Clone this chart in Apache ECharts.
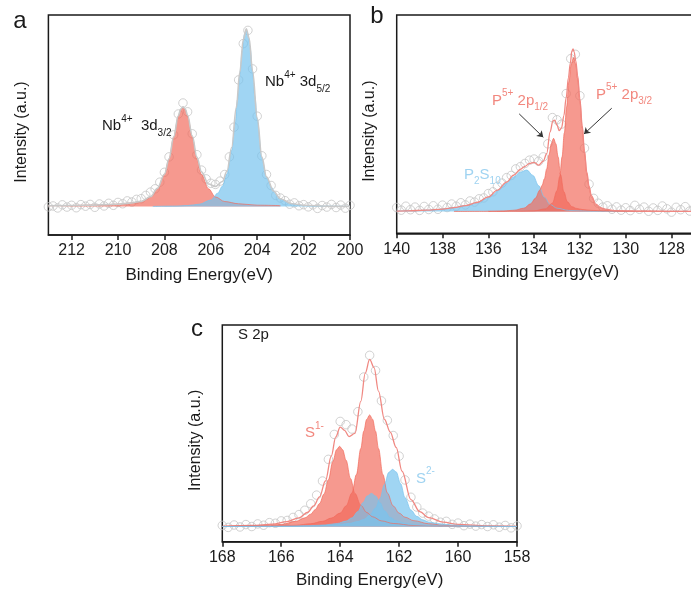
<!DOCTYPE html>
<html><head><meta charset="utf-8">
<script src="https://cdn.jsdelivr.net/npm/echarts@6/dist/echarts.min.js"></script>
<style>html,body{margin:0;padding:0;background:#fff}#c{width:691px;height:592px}</style>
</head><body><div id="c"></div>
<script>
// ---------- tick labels ----------
const ticksA = [200, 202, 204, 206, 208, 210, 212];
const ticksB = [128, 130, 132, 134, 136, 138, 140];
const ticksC = [158, 160, 162, 164, 166, 168];

// ---------- panel a : Nb 3d ----------
const aRawX = [200,200.2,200.4,200.6,200.8,201,201.2,201.4,201.6,201.8,202,202.2,202.4,202.6,202.8,203,203.2,203.4,203.6,203.8,204,204.2,204.4,204.6,204.8,205,205.2,205.4,205.6,205.8,206,206.2,206.4,206.6,206.8,207,207.2,207.4,207.6,207.8,208,208.2,208.4,208.6,208.8,209,209.2,209.4,209.6,209.8,210,210.2,210.4,210.6,210.8,211,211.2,211.4,211.6,211.8,212,212.2,212.4,212.6,212.8,213];
const aRawY = [0.5,-0.8,0.6,-0.5,0.9,-0.3,0.4,-0.9,0.7,-0.2,0.8,0.3,1.6,1.0,2.6,3.8,5.0,9.5,14.5,23,41,62.5,80,74,57.5,36,22.5,14.5,11.5,10,10.5,12.5,16.5,23.5,33,43,47,42,32.5,22.5,15.5,11,8,6.5,5,3.5,3.2,2.0,2.5,1.2,1.8,0.5,1.4,0.2,1.1,-0.4,0.9,0.1,0.8,-0.6,0.5,-0.3,0.7,-0.7,0.2,-0.2];
const aFitX = [200,201,202,202.5,203,203.3,203.6,203.8,204.0,204.2,204.35,204.47,204.6,204.75,204.9,205.1,205.3,205.5,205.8,206.1,206.4,206.6,206.8,207.0,207.1,207.2,207.3,207.4,207.6,207.8,208.0,208.3,208.6,209.0,209.5,210,211,212,213];
const aFitY = [0,0.1,0.5,1.2,3.5,7,13.5,22.5,40.2,61.6,76.5,80.7,75.8,60.9,45,26.8,16.1,11.3,9.1,10.2,15.7,22.4,32.1,41.4,44.3,45.3,44.2,41.2,31.6,21.6,14.6,8.2,4.4,2.3,1.5,1.0,0.6,0.4,0.3];
const aBlueX = [200,201.5,202,202.5,203,203.2,203.4,203.6,203.8,204.0,204.1,204.2,204.3,204.4,204.47,204.55,204.65,204.75,204.85,204.95,205.1,205.3,205.5,205.7,206,206.5,207,207.5,208.5];
const aBlueY = [0,0.15,0.4,1.1,3.2,5.6,8.8,13.2,21.8,39.6,50,61,71.5,78.5,80,78.2,70.5,60,48.5,37.5,25.5,14.8,9.2,6.0,2.9,1.0,0.4,0.15,0];
const aRedX = [203.0,204.0,204.8,205.4,205.8,206.1,206.4,206.6,206.8,207.0,207.1,207.2,207.3,207.4,207.6,207.8,208.0,208.3,208.6,209.0,209.5,210.0,211.0,212.0,213.0];
const aRedY = [0.35,0.55,1.2,2.2,4.3,8,14.5,21.5,31.5,41,44,45,44,41,31.5,21.5,14.5,8,4.3,2.2,1.5,1.0,0.6,0.4,0.3];

// ---------- panel b : P 2p ----------
const bRawX = [127,127.2,127.4,127.6,127.8,128,128.2,128.4,128.6,128.8,129,129.2,129.4,129.6,129.8,130,130.2,130.4,130.6,130.8,131,131.2,131.4,131.6,131.8,132,132.2,132.4,132.6,132.8,133,133.2,133.4,133.6,133.8,134,134.2,134.4,134.6,134.8,135,135.2,135.4,135.6,135.8,136,136.2,136.4,136.6,136.8,137,137.2,137.4,137.6,137.8,138,138.2,138.4,138.6,138.8,139,139.2,139.4,139.6,139.8,140];
const bRawY = [1.5,0.2,2.2,0.8,1.9,-0.3,1.2,2.5,0.5,1.6,0.1,2.0,1.0,2.8,0.4,1.7,0.6,2.1,1.0,2.6,2.0,3.8,6.0,12.5,29,53,72,70,54,40,42,43,31,25,23,24,23.5,22,20.5,19.5,16.5,15.5,13,11.5,9.0,8.2,6.2,5.8,4.3,4.8,3.0,4.0,2.4,3.4,1.8,2.9,1.0,2.6,0.9,2.3,0.5,2.0,0.8,2.4,0.6,1.8];
const bFitX = [127,129,130.5,130.9,131.1,131.3,131.5,131.6,131.7,131.8,131.9,132.0,132.1,132.18,132.25,132.3,132.35,132.42,132.5,132.6,132.7,132.8,132.9,133.0,133.1,133.18,133.3,133.45,133.6,133.8,134.0,134.2,134.4,134.6,134.9,135.2,135.6,136.0,136.5,137.0,137.5,138.0,138.7,139.5,140];
const bFitY = [0,0.1,0.4,1.1,1.8,3.3,7.3,11.6,18.1,27.7,39.4,51.6,62.3,69,73,74.5,73.5,67.8,61.3,52,43.9,38.3,37,39.5,41.8,41.5,36.5,26.5,23.1,21.2,22.5,22,20.7,19.3,16.6,13.4,9.8,6.7,4.1,2.7,1.8,1.1,0.6,0.3,0.2];
const bP2S10X = [127,131.5,132.5,133.0,133.3,133.55,133.8,134.05,134.32,134.6,134.9,135.2,135.5,135.8,136.1,136.5,137.0,137.5,138.0,138.7,139.5,140];
const bP2S10Y = [0,0.1,0.5,1.5,3.2,6.5,11.8,16.5,19,18.0,15.8,13.0,10.3,7.8,5.8,4.0,2.7,1.8,1.1,0.6,0.3,0.2];
const b2p12X = [127,130.0,130.9,131.5,131.9,132.15,132.35,132.55,132.7,132.85,132.95,133.05,133.15,133.25,133.35,133.45,133.55,133.65,133.75,133.95,134.15,134.45,134.85,135.35,136.2,137.5];
const b2p12Y = [0,0.1,0.3,0.5,0.9,1.4,2.2,4.5,9,17,25,31,33.5,31,26,19.5,15,12,9.8,6,3.5,1.5,0.6,0.2,0.05,0];
const b2p32X = [127,130.0,130.8,131.1,131.3,131.5,131.6,131.7,131.8,131.9,132.0,132.1,132.18,132.28,132.38,132.48,132.58,132.68,132.78,132.88,133.0,133.2,133.5,134.0,134.8,136];
const b2p32Y = [0,0.1,0.5,1.4,2.9,6.8,11,17.5,27,38.5,50.5,61,67.5,70.5,67.5,59.5,48,36,25,16,9.5,3.8,1.2,0.3,0.1,0];
const bArrows = [[134.65, 44.7, 133.6, 34.0], [130.61, 47.3, 131.82, 35.5]];

// ---------- panel c : S 2p ----------
const cRawX = [158,158.2,158.4,158.6,158.8,159,159.2,159.4,159.6,159.8,160,160.2,160.4,160.6,160.8,161,161.2,161.4,161.6,161.8,162,162.2,162.4,162.6,162.8,163,163.2,163.4,163.6,163.8,164,164.2,164.4,164.6,164.8,165,165.2,165.4,165.6,165.8,166,166.2,166.4,166.6,166.8,167,167.2,167.4,167.6,167.8,168];
const cRawY = [0.3,-0.6,0.5,-0.3,0.8,0.0,0.9,0.2,1.1,0.4,1.6,1.0,2.4,2.0,3.5,4.8,6.2,9.0,13.5,21.5,32.5,42,49,58,72,79,69,53,45,47,48.5,42.5,31,21,14.5,10.5,7.5,5.5,4.2,2.8,2.6,1.5,1.8,0.6,1.2,0.0,0.9,-0.2,0.7,-0.4,0.5];
const cFitX = [158,159,160,160.5,161.0,161.3,161.6,161.9,162.1,162.3,162.5,162.7,162.85,163.0,163.15,163.3,163.5,163.7,163.85,164.0,164.15,164.3,164.5,164.7,164.9,165.1,165.4,165.8,166.3,167,168];
const cFitY = [0.1,0.3,1.0,2.0,4.1,6.9,12.4,25.5,36.5,43.6,49.5,62.5,73.3,77.1,70.8,57.8,43,41.5,44.4,45.9,41.4,32.6,21,13.7,9.5,6.6,4.0,2.3,1.1,0.5,0.1];
const cS1aX = [158,160,161.5,162.2,162.6,162.9,163.1,163.3,163.5,163.65,163.8,163.92,164.02,164.12,164.25,164.4,164.55,164.7,164.85,165.0,165.2,165.5,166.0,166.5,167,168];
const cS1aY = [0,0.1,0.5,1.4,2.6,4.5,6.5,9.8,15.3,22.2,30.6,35.5,37,35.5,30,21.6,15,10.6,7.8,5.7,4.0,2.4,1.0,0.5,0.25,0.1];
const cS1bX = [158,159.5,160.5,161.0,161.5,161.8,162.0,162.2,162.4,162.55,162.7,162.8,162.9,163.0,163.1,163.2,163.3,163.45,163.6,163.8,164.0,164.3,164.6,165.0,165.5,166.5,168];
const cS1bY = [0,0.2,0.6,1.3,2.7,4.3,6.2,9.5,15.5,24,36,44,49.5,51.5,49.5,44,36,24,15.5,9.5,6.2,3.9,2.4,1.3,0.6,0.2,0];
const cS2aX = [158,159.2,159.7,160.2,160.7,161.0,161.2,161.4,161.6,161.8,161.95,162.1,162.22,162.35,162.5,162.65,162.8,163.0,163.2,163.4,163.7,164.2,164.7,165.5,168];
const cS2aY = [0,0.15,0.3,0.7,1.35,2.1,3.1,4.7,7.6,13.3,19.8,25.2,26.4,25,19.4,12.9,8.5,5.1,3.3,2.3,1.4,0.7,0.3,0.1,0];
const cS2bX = [158,160,160.9,161.4,161.8,162.1,162.3,162.5,162.65,162.8,162.94,163.08,163.22,163.4,163.6,163.8,164.1,164.5,165.0,166,168];
const cS2bY = [0,0.1,0.4,0.75,1.45,2.6,4.2,7.3,11,14.1,15.3,14.1,11.1,6.9,4,2.5,1.4,0.75,0.4,0.1,0];

// ---------- styling ----------
const F = '"Liberation Sans", Arial, Helvetica, sans-serif';
const INK = '#1a1a1a';
const RED = 'rgba(242,105,90,0.68)';
const BLUE = 'rgba(120,195,238,0.7)';
const PINK = '#f08882';
const PINKTXT = '#f2877e';
const BLUETXT = '#9fd3f1';
const CIRCLE = '#c6c6c6';

const zip = (xs, ys) => xs.map((x, i) => [x, ys[i]]);

function areaSeries(gi, xs, ys, color) {
  return { type: 'line', xAxisIndex: gi, yAxisIndex: gi, data: zip(xs, ys), smooth: 0.35, smoothMonotone: 'x',
    symbol: 'none', silent: true, lineStyle: { color: color, width: 1 }, areaStyle: { color: color, opacity: 1 } };
}
function fitSeries(gi, xs, ys, color, width) {
  return { type: 'line', xAxisIndex: gi, yAxisIndex: gi, data: zip(xs, ys), smooth: 0.35, smoothMonotone: 'x',
    symbol: 'none', silent: true, lineStyle: { color: color, width: width } };
}
function rawSeries(gi, xs, ys) {
  return { type: 'scatter', xAxisIndex: gi, yAxisIndex: gi, data: zip(xs, ys), symbol: 'circle', symbolSize: 8.5,
    silent: true, itemStyle: { color: 'rgba(255,255,255,0)', borderColor: CIRCLE, borderWidth: 1 } };
}
function xAxis(gi, min, max, ticks, nameGap) {
  return { gridIndex: gi, type: 'value', min: min, max: max, inverse: true,
    name: 'Binding Energy(eV)', nameLocation: 'middle', nameGap: nameGap,
    nameTextStyle: { fontSize: 17, color: INK, fontFamily: F },
    axisLine: { show: true, onZero: false, lineStyle: { color: INK, width: 1.5 } },
    axisTick: { show: true, inside: false, length: 5, lineStyle: { color: INK, width: 1.5 }, customValues: ticks },
    axisLabel: { show: true, margin: 8, fontSize: 16, color: INK, fontFamily: F, customValues: ticks },
    splitLine: { show: false } };
}
function yAxis(gi, min, max) {
  return { gridIndex: gi, type: 'value', min: min, max: max,
    name: 'Intensity (a.u.)', nameLocation: 'middle', nameRotate: 90, nameGap: 19,
    nameTextStyle: { fontSize: 16, color: INK, fontFamily: F, padding: [0, 14, 0, 0] },
    axisLine: { show: false }, axisTick: { show: false }, axisLabel: { show: false }, splitLine: { show: false } };
}
const richBase = (fill) => ({
  n: { fontSize: 15, fill: fill, fontFamily: F, verticalAlign: 'middle', lineHeight: 24 },
  sup: { fontSize: 10, fill: fill, fontFamily: F, verticalAlign: 'top', lineHeight: 12 },
  sub: { fontSize: 10, fill: fill, fontFamily: F, verticalAlign: 'bottom', lineHeight: 12 }
});
function label(x, y, text, fill) {
  return { type: 'text', x: x, y: y, silent: true, z: 100,
    style: { text: text, rich: richBase(fill), align: 'left', verticalAlign: 'middle', fill: fill, font: '15px ' + F } };
}
function letter(x, y, t) {
  return { type: 'text', x: x, y: y, silent: true,
    style: { text: t, fill: INK, font: '24px ' + F, align: 'center', verticalAlign: 'middle' } };
}

const arrowSeries = fitSeries(1, bFitX, bFitY, PINK, 1.3);
arrowSeries.markLine = {
  silent: true, symbol: ['none', 'arrow'], symbolSize: 6, animation: false,
  label: { show: false }, lineStyle: { color: '#333', width: 1, type: 'solid' },
  data: bArrows.map(a => [{ coord: [a[0], a[1]] }, { coord: [a[2], a[3]] }])
};

const gridBase = { show: true, borderColor: INK, borderWidth: 1.5, containLabel: false, outerBoundsMode: 'none' };
const option = {
  animation: false,
  backgroundColor: '#fff',
  grid: [
    Object.assign({ left: 48.4, top: 15, width: 301.6, height: 220 }, gridBase),
    Object.assign({ left: 396.7, top: 15, width: 297.7, height: 218.3 }, gridBase),
    Object.assign({ left: 222.3, top: 325, width: 294.7, height: 216.7 }, gridBase)
  ],
  xAxis: [ xAxis(0, 200, 213, ticksA, 32), xAxis(1, 127, 140, ticksB, 31), xAxis(2, 158, 168, ticksC, 30) ],
  yAxis: [ yAxis(0, -13, 87), yAxis(1, -10, 90), yAxis(2, -7, 93) ],
  series: [
    // a
    areaSeries(0, aRedX, aRedY, RED),
    areaSeries(0, aBlueX, aBlueY, BLUE),
    rawSeries(0, aRawX, aRawY),
    fitSeries(0, aFitX, aFitY, '#c9c9c9', 1.6),
    // b
    areaSeries(1, bP2S10X, bP2S10Y, BLUE),
    areaSeries(1, b2p12X, b2p12Y, RED),
    areaSeries(1, b2p32X, b2p32Y, RED),
    rawSeries(1, bRawX, bRawY),
    arrowSeries,
    // c
    rawSeries(2, cRawX, cRawY),
    fitSeries(2, cFitX, cFitY, PINK, 1.3),
    areaSeries(2, cS1aX, cS1aY, RED),
    areaSeries(2, cS1bX, cS1bY, RED),
    areaSeries(2, cS2aX, cS2aY, BLUE),
    areaSeries(2, cS2bX, cS2bY, BLUE)
  ],
  graphic: [
    letter(20, 21, 'a'), letter(377, 16, 'b'), letter(197, 329, 'c'),
    label(102, 126, '{n|Nb}{sup|4+}{n|  3d}{sub|3/2}', INK),
    label(265, 82, '{n|Nb}{sup|4+}{n| 3d}{sub|5/2}', INK),
    label(492, 100.5, '{n|P}{sup|5+}{n| 2p}{sub|1/2}', PINKTXT),
    label(596, 94.5, '{n|P}{sup|5+}{n| 2p}{sub|3/2}', PINKTXT),
    label(464, 174.5, '{n|P}{sub|2}{n|S}{sub|10}', BLUETXT),
    label(238, 334.5, '{n|S 2p}', INK),
    label(305, 433, '{n|S}{sup|1-}', PINKTXT),
    label(416, 478.5, '{n|S}{sup|2-}', BLUETXT)
  ]
};
const chart = echarts.init(document.getElementById('c'), null, { renderer: 'canvas' });
chart.setOption(option);
</script></body></html>
